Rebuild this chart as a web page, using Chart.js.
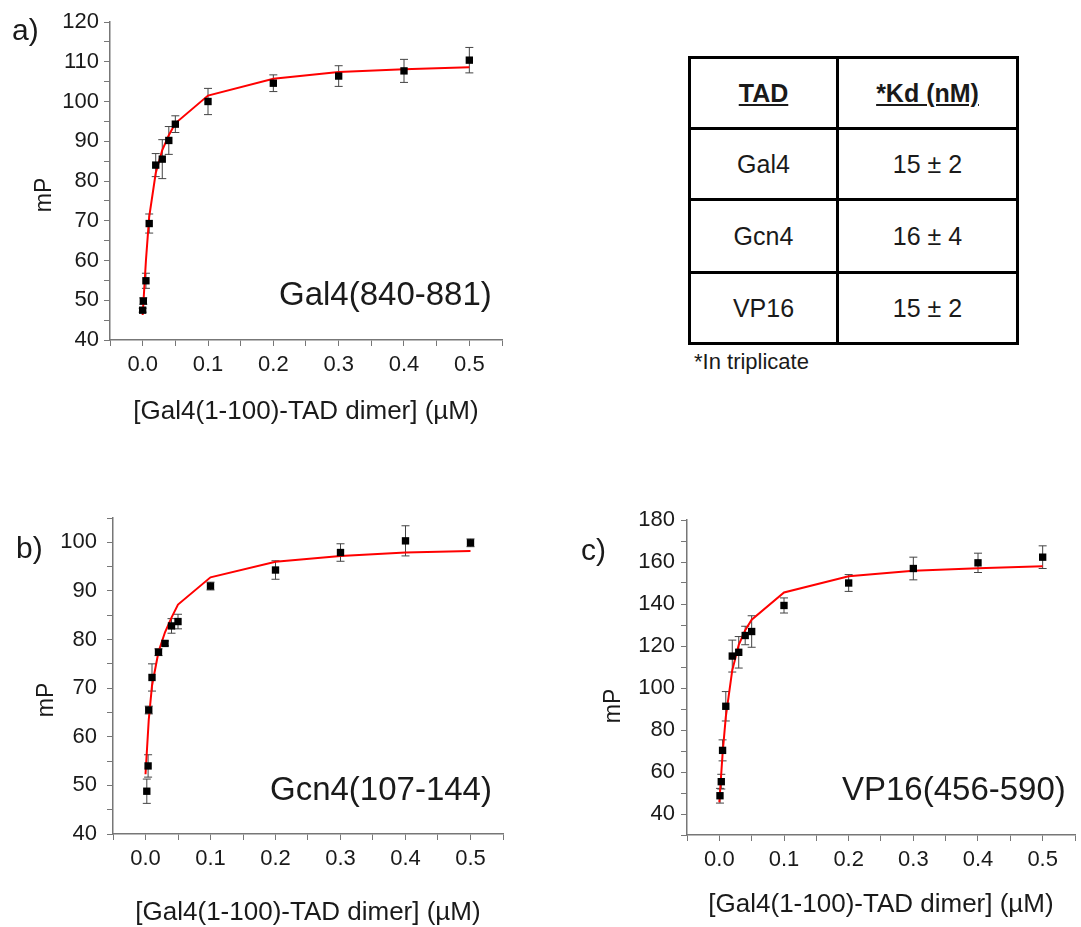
<!DOCTYPE html>
<html>
<head>
<meta charset="utf-8">
<script src="https://cdn.jsdelivr.net/npm/chart.js@4.4.1/dist/chart.umd.min.js"></script>
<style>
  body { margin: 0; background: #fff; font-family: "Liberation Sans", Arial, sans-serif; color: #1a1a1a; }
  #page { position: relative; width: 1081px; height: 927px; overflow: hidden; }
  canvas { position: absolute; }
  .tag { position: absolute; font-size: 30px; line-height: 1; }
  .name { position: absolute; font-size: 33px; line-height: 1; white-space: nowrap; }
  .ytitle { position: absolute; font-size: 23px; line-height: 1; transform: translate(-50%, -50%) rotate(-90deg); }
  .kd { position: absolute; left: 688px; top: 56px; display: grid;
        grid-template-columns: 148px 180px; grid-template-rows: 71px 71px 73px 71px;
        border-top: 3px solid #000; border-left: 3px solid #000; }
  .kd div { box-sizing: border-box; border-right: 3px solid #000; border-bottom: 3px solid #000;
            display: flex; align-items: center; justify-content: center; font-size: 25px; }
  .kd .hd { font-weight: bold; text-decoration: underline; }
  .note { position: absolute; left: 694px; top: 351px; font-size: 22px; line-height: 1; }
</style>
</head>
<body>
<div id="page">
  <canvas id="chartA" width="520" height="440" style="left:0;top:0"></canvas>
  <canvas id="chartB" width="520" height="437" style="left:0;top:490px"></canvas>
  <canvas id="chartC" width="521" height="437" style="left:560px;top:490px"></canvas>

  <div class="tag" style="left:12px;top:15px">a)</div>
  <div class="tag" style="left:16px;top:533px">b)</div>
  <div class="tag" style="left:581px;top:535px">c)</div>

  <div class="name" style="left:279px;top:277px">Gal4(840-881)</div>
  <div class="name" style="left:270px;top:772px">Gcn4(107-144)</div>
  <div class="name" style="left:842px;top:772px">VP16(456-590)</div>

  <div class="ytitle" style="left:43px;top:195px">mP</div>
  <div class="ytitle" style="left:45px;top:700px">mP</div>
  <div class="ytitle" style="left:612px;top:706px">mP</div>

  <div class="kd">
    <div class="hd">TAD</div><div class="hd">*Kd (nM)</div>
    <div>Gal4</div><div>15 ± 2</div>
    <div>Gcn4</div><div>16 ± 4</div>
    <div>VP16</div><div>15 ± 2</div>
  </div>
  <div class="note">*In triplicate</div>
</div>

<script>
// ---- data ----
// a) Gal4(840-881)
var concA = [0, 0.001, 0.005, 0.01, 0.02, 0.03, 0.04, 0.05, 0.1, 0.2, 0.3, 0.4, 0.5]
var mpA = [47.5, 49.8, 54.9, 69.3, 84.0, 85.5, 90.2, 94.3, 100.0, 104.6, 106.4, 107.7, 110.4]
var errA = [0.5, 0.8, 1.9, 2.4, 2.9, 4.9, 3.5, 2.1, 3.3, 2.1, 2.6, 2.9, 3.2]
var fitXA = [0, 0.005, 0.01, 0.02, 0.03, 0.04, 0.05, 0.1, 0.2, 0.3, 0.4, 0.5]
var fitYA = [46.3, 60.0, 71.0, 82.0, 87.8, 91.5, 94.5, 101.5, 105.7, 107.4, 108.1, 108.6]

// b) Gcn4(107-144)
var concB = [0.002, 0.004, 0.005, 0.01, 0.02, 0.03, 0.04, 0.05, 0.1, 0.2, 0.3, 0.4, 0.5]
var mpB = [48.8, 54.0, 65.5, 72.2, 77.4, 79.2, 82.8, 83.7, 91.0, 94.3, 97.9, 100.3, 99.9]
var errB = [2.5, 2.3, 0.8, 2.8, 0.7, 0.5, 1.5, 1.5, 0.8, 1.9, 1.8, 3.1, 0.8]
var fitXB = [0, 0.005, 0.01, 0.02, 0.03, 0.04, 0.05, 0.1, 0.2, 0.3, 0.4, 0.5]
var fitYB = [52.3, 63.5, 70.5, 77.5, 81.5, 84.5, 87.2, 92.8, 96.0, 97.2, 97.9, 98.2]

// c) VP16(456-590)
var concC = [0.001, 0.003, 0.005, 0.01, 0.02, 0.03, 0.04, 0.05, 0.1, 0.2, 0.3, 0.4, 0.5]
var mpC = [48.7, 55.4, 70.3, 91.3, 115.2, 117.0, 125.0, 126.9, 139.3, 150.0, 156.9, 159.6, 162.3]
var errC = [3.5, 3.5, 5.0, 7.0, 7.6, 7.5, 4.4, 7.5, 3.6, 4.0, 5.4, 4.6, 5.4]
var fitXC = [0, 0.005, 0.01, 0.02, 0.03, 0.04, 0.05, 0.1, 0.2, 0.3, 0.4, 0.5]
var fitYC = [45.6, 68.7, 86.2, 108.5, 120.5, 127.5, 132.5, 145.5, 153.2, 155.8, 157.0, 158.0]

// ticks
var xTicks = [-0.05, 0, 0.05, 0.1, 0.15, 0.2, 0.25, 0.3, 0.35, 0.4, 0.45, 0.5, 0.55]
var xLabels = ['', '0.0', '', '0.1', '', '0.2', '', '0.3', '', '0.4', '', '0.5', '']
var yMajorA = [40, 50, 60, 70, 80, 90, 100, 110, 120]
var yMajorB = [40, 50, 60, 70, 80, 90, 100]
var yMajorC = [40, 60, 80, 100, 120, 140, 160, 180]

var xTitle = '[Gal4(1-100)-TAD dimer] (\u00b5M)'

Chart.defaults.font.family = '"Liberation Sans", Arial, sans-serif'
Chart.defaults.font.size = 22
Chart.defaults.color = '#1a1a1a'

// vertical error bars, drawn under the points
var errorBars = {
    id: 'errorBars',
    beforeDatasetsDraw(chart, args, opts) {
        if (!opts.errors) return
        let ctx = chart.ctx
        let ys = chart.scales.y
        let pts = chart.getDatasetMeta(0).data
        let vals = chart.data.datasets[0].data
        ctx.save()
        ctx.strokeStyle = '#444'
        ctx.lineWidth = 1
        pts.forEach(function (p, i) {
            let top = ys.getPixelForValue(vals[i].y + opts.errors[i])
            let bot = ys.getPixelForValue(vals[i].y - opts.errors[i])
            ctx.beginPath()
            ctx.moveTo(p.x, top); ctx.lineTo(p.x, bot)
            ctx.moveTo(p.x - 4, top); ctx.lineTo(p.x + 4, top)
            ctx.moveTo(p.x - 4, bot); ctx.lineTo(p.x + 4, bot)
            ctx.stroke()
        })
        ctx.restore()
    }
}
Chart.register(errorBars)

function toPoints(xs, ys) {
    return xs.map(function (x, i) { return { x: x, y: ys[i] } })
}

function makeChart(id, p) {
    let ctx = document.getElementById(id).getContext('2d')
    return new Chart(ctx, {
        type: 'scatter',
        data: {
            datasets: [{
                data: toPoints(p.conc, p.mp),
                pointStyle: 'rect',
                pointRadius: 5.2,
                backgroundColor: '#000',
                borderColor: '#000',
                borderWidth: 0
            }, {
                data: toPoints(p.fitX, p.fitY),
                showLine: true,
                pointRadius: 0,
                borderColor: '#ff0000',
                borderWidth: 2,
                tension: 0
            }]
        },
        options: {
            responsive: false,
            animation: false,
            layout: { padding: p.pad },
            plugins: {
                legend: { display: false },
                tooltip: { enabled: false },
                errorBars: { errors: p.err }
            },
            scales: {
                x: {
                    type: 'linear',
                    min: -0.05,
                    max: 0.55,
                    afterBuildTicks: function (s) { s.ticks = xTicks.map(function (v) { return { value: v } }) },
                    afterFit: function (s) { s.height = p.xh },
                    ticks: {
                        autoSkip: false,
                        maxRotation: 0,
                        padding: 6,
                        callback: function (v, i) { return xLabels[i] }
                    },
                    grid: { drawOnChartArea: false, color: '#777', tickLength: 6 },
                    border: { color: '#777', width: 1.5 },
                    title: {
                        display: true, text: xTitle,
                        font: { size: 26, lineHeight: 1 },
                        padding: { top: 0, bottom: p.tpad }
                    }
                },
                y: {
                    min: p.ymin,
                    max: p.ymax,
                    afterFit: function (s) { s.width = p.yw },
                    ticks: {
                        stepSize: p.step,
                        autoSkip: false,
                        padding: p.ypad,
                        callback: function (v) { return p.major.indexOf(v) >= 0 ? v : '' }
                    },
                    grid: { drawOnChartArea: false, color: '#777', tickLength: 6 },
                    border: { color: '#777', width: 1.5 }
                }
            }
        }
    })
}

makeChart('chartA', {
    conc: concA, mp: mpA, err: errA, fitX: fitXA, fitY: fitYA,
    ymin: 40, ymax: 120, step: 5, major: yMajorA,
    pad: { top: 22, right: 18, left: 0, bottom: 0 }, yw: 110, xh: 100, tpad: 15, ypad: 5
})
makeChart('chartB', {
    conc: concB, mp: mpB, err: errB, fitX: fitXB, fitY: fitYB,
    ymin: 40, ymax: 105, step: 5, major: yMajorB,
    pad: { top: 28, right: 17, left: 0, bottom: 0 }, yw: 113, xh: 93, tpad: 1, ypad: 10
})
makeChart('chartC', {
    conc: concC, mp: mpC, err: errC, fitX: fitXC, fitY: fitYC,
    ymin: 30, ymax: 180, step: 10, major: yMajorC,
    pad: { top: 30, right: 3, left: 0, bottom: 0 }, yw: 127, xh: 92, tpad: 9, ypad: 6
})
</script>
</body>
</html>
